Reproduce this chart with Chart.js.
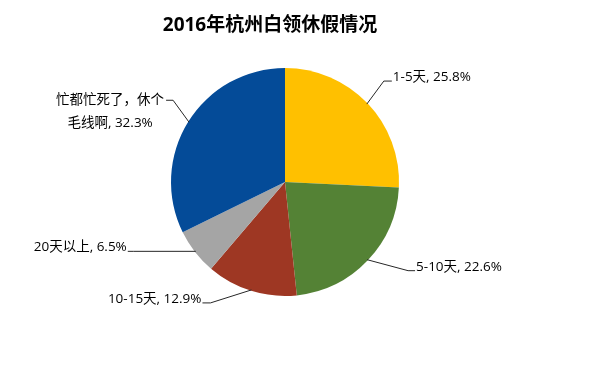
<!DOCTYPE html>
<html><head><meta charset="utf-8">
<script src="https://cdn.jsdelivr.net/npm/chart.js@4.4.0/dist/chart.umd.min.js"></script>
<style>html,body{margin:0;padding:0;background:#fff}#wrap{width:593px;height:383px}</style>
</head><body><div id="wrap"><canvas id="c" width="593" height="383"></canvas></div>
<script>
const chartTitle = "2016年杭州白领休假情况";
const categories = ["1-5天", "5-10天", "10-15天", "20天以上", "忙都忙死了，休个毛线啊"];
const values = [25.8, 22.6, 12.9, 6.5, 32.3];
const labelLines = [["1-5天, 25.8%"], ["5-10天, 22.6%"], ["10-15天, 12.9%"], ["20天以上, 6.5%"], ["忙都忙死了，休个", "毛线啊, 32.3%"]];
const colors = ["#FFC000", "#548235", "#9E3723", "#A5A5A5", "#044B98"];
// leader line style: elbow offset from arc midpoint, horizontal tail length
const leader = [
  {dx: 17, dy: -23, tail: 8},
  {dx: 41, dy: 11, tail: 7},
  {dx: -41, dy: 13, tail: -8},
  {dx: -62, dy: 0, tail: -6},
  {dx: -16, dy: -22, tail: -7}
];
const FONT = '"Open Sans","Noto Sans CJK SC",sans-serif';

const labelPlugin = {
  id: 'labels',
  afterDraw(chart) {
    const ctx = chart.ctx;
    ctx.save();
    ctx.fillStyle = '#000';
    ctx.font = 'bold 19px ' + FONT;
    ctx.textAlign = 'center';
    ctx.textBaseline = 'middle';
    ctx.fillText(chartTitle, 270, 26);
    const meta = chart.getDatasetMeta(0);
    ctx.font = '13.5px ' + FONT;
    meta.data.forEach((arc, i) => {
      const mid = (arc.startAngle + arc.endAngle) / 2;
      const r = arc.outerRadius;
      const x0 = arc.x + Math.cos(mid) * (r - 1);
      const y0 = arc.y + Math.sin(mid) * (r - 1);
      const L = leader[i];
      const x1 = x0 + L.dx, y1 = y0 + L.dy;
      const x2 = x1 + L.tail;
      ctx.strokeStyle = '#262626';
      ctx.lineWidth = 1;
      ctx.beginPath();
      ctx.moveTo(x0, y0); ctx.lineTo(x1, y1); ctx.lineTo(x2, y1);
      ctx.stroke();
      const lines = labelLines[i];
      const right = L.tail < 0;
      ctx.fillStyle = '#000';
      ctx.textBaseline = 'middle';
      if (lines.length === 1) {
        ctx.textAlign = right ? 'right' : 'left';
        ctx.fillText(lines[0], x2 + (right ? -1 : 1), y1 - 4);
      } else {
        const widths = lines.map(t => ctx.measureText(t).width);
        const w = Math.max(...widths);
        const cx = x2 - 2 - w / 2;
        ctx.textAlign = 'center';
        lines.forEach((t, k) => ctx.fillText(t, cx, y1 + k * 23));
      }
    });
    ctx.restore();
  }
};

new Chart(document.getElementById('c'), {
  type: 'pie',
  data: {
    labels: categories,
    datasets: [{ data: values, backgroundColor: colors, borderWidth: 0 }]
  },
  options: {
    responsive: false,
    animation: false,
    layout: { padding: { top: 68, bottom: 87, left: 171, right: 194 } },
    plugins: { legend: { display: false }, tooltip: { enabled: false }, title: { display: false } }
  },
  plugins: [labelPlugin]
});
</script></body></html>
